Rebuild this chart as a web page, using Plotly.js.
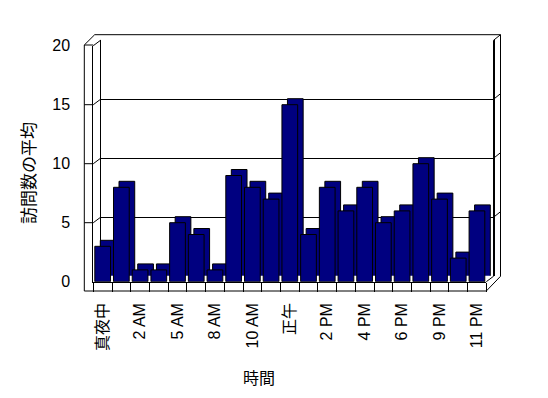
<!DOCTYPE html>
<html>
<head>
<meta charset="utf-8">
<script src="https://cdn.plot.ly/plotly-3.0.1.min.js"></script>
<style>html,body{margin:0;padding:0;background:#fff;}#chart{width:548px;height:398px;}</style>
</head>
<body>
<div id="chart"></div>
<script>
// ---- data ----
const categories = ["真夜中","1 AM","2 AM","4 AM","5 AM","7 AM","8 AM","9 AM","10 AM","11 AM","正午",
                    "1 PM","2 PM","3 PM","4 PM","5 PM","6 PM","8 PM","9 PM","10 PM","11 PM"];
const visits = [3, 8, 1, 1, 5, 4, 1, 9, 8, 7, 15, 4, 8, 6, 8, 5, 6, 10, 7, 2, 6];
const yTicks = [0, 5, 10, 15, 20];
const xTitle = "時間";
const yTitle = "訪問数の平均";

// ---- layout helpers (pixel geometry of the pseudo-3D frame) ----
const W = 548, H = 398;
const px = x => x / W;
const py = y => 1 - y / H;
const FRONT = {l: 93.3, r: 486.3, b: 281.7, t: 45.7};
const DX = 7.2, DY = 5.4;          // back wall offset
const BDX = 5.5, BDY = 6;          // bar depth offset
const unit = (FRONT.b - FRONT.t) / 20;
const depthBase = BDY / unit;

const idx = categories.map((c, i) => i);
const labelIdx = idx.filter(i => i % 2 === 0);
const labelText = labelIdx.map(i => categories[i]);
const boundaries = categories.concat([""]).map((c, i) => i - 0.5);

const font = {family: 'Liberation Sans, "Noto Sans CJK JP", sans-serif', size: 16, color: '#000'};

const traces = [
  { // back wall holder (no marks)
    type: 'scatter', mode: 'markers', x: [0], y: [0], xaxis: 'x', yaxis: 'y',
    marker: {opacity: 0, size: 1}, hoverinfo: 'skip', showlegend: false
  },
  { // depth (top + side faces)
    type: 'bar', x: idx, y: visits.map(v => v + depthBase), base: visits.map(() => -depthBase),
    xaxis: 'x2', yaxis: 'y2', width: 0.84,
    marker: {color: '#000080', line: {color: '#000', width: 1}}, hoverinfo: 'skip', showlegend: false
  },
  { // front faces
    type: 'bar', x: idx, y: visits, xaxis: 'x3', yaxis: 'y3', width: 0.84,
    marker: {color: '#000080', line: {color: '#000', width: 1}}, hoverinfo: 'skip', showlegend: false
  }
];

// frame lines
const L = (x0, y0, x1, y1) => ({type: 'line', xref: 'paper', yref: 'paper', layer: 'below',
  x0: px(x0), y0: py(y0), x1: px(x1), y1: py(y1), line: {color: '#000', width: 1}});
const wallOuter = FRONT.l - 9;
const floorBottom = FRONT.b + 9.3;
const backR = FRONT.r + DX, backT = FRONT.t - DY;
const shapes = [
  L(wallOuter, FRONT.t - 0.7, wallOuter, floorBottom),
  L(wallOuter, FRONT.t - 0.7, FRONT.l, FRONT.t - 0.7),
  L(wallOuter, FRONT.t - 0.7, FRONT.l + 1.4, backT - 5.6),
  L(FRONT.l + 1.4, backT - 5.6, backR + 7, backT - 5.6),
  L(FRONT.l, FRONT.t, FRONT.l + DX, backT),
  L(backR + 7, backT - 5.6, backR + 7, FRONT.b - DY),
  L(backR, backT, backR + 7, backT - 5.6),
  L(wallOuter, floorBottom, FRONT.r, floorBottom),
  L(FRONT.r, floorBottom, backR + 7, FRONT.b - DY),
  L(FRONT.r, FRONT.b, backR, FRONT.b - DY),
  L(FRONT.l + DX, backT, FRONT.l + DX, FRONT.b - DY),
  L(backR, backT, backR, FRONT.b - DY),
];
yTicks.filter(v => v > 0).forEach(v => {
  const yf = FRONT.b - unit * v, yb = yf - DY;
  if (v < 20) {
    shapes.push(L(wallOuter, yf, FRONT.l, yf));
    shapes.push(L(FRONT.l, yf, FRONT.l + DX, yb));
    shapes.push(L(backR, yb, backR + 7, yb - 5.6));
  }
});

const layout = {
  width: W, height: H,
  margin: {l: 0, r: 0, t: 0, b: 0},
  paper_bgcolor: '#fff', plot_bgcolor: 'rgba(0,0,0,0)',
  font: font, showlegend: false, barmode: 'overlay',
  xaxis: {domain: [px(FRONT.l + DX), px(FRONT.r + DX)], range: [-0.5, 20.5], anchor: 'y',
          showgrid: false, zeroline: false, showticklabels: false, ticks: '', showline: false},
  yaxis: {domain: [py(FRONT.b - DY), py(FRONT.t - DY)], range: [0, 20], anchor: 'x',
          tickmode: 'array', tickvals: yTicks.filter(v => v > 0), showticklabels: false, ticks: '',
          showgrid: true, gridcolor: '#000', gridwidth: 1, zeroline: false,
          showline: true, mirror: true, linecolor: '#000', linewidth: 1},
  xaxis2: {domain: [px(FRONT.l + BDX), px(FRONT.r + BDX)], range: [-0.5, 20.5], anchor: 'y2', visible: false},
  yaxis2: {domain: [py(FRONT.b - BDY), py(FRONT.t - BDY)], range: [0, 20], anchor: 'x2', visible: false},
  xaxis3: {domain: [px(FRONT.l), px(FRONT.r)], range: [-0.5, 20.5], anchor: 'y3',
           tickmode: 'array', tickvals: labelIdx, ticktext: labelText, tickangle: -90, ticks: '',
           ticklabelstandoff: 14, tickfont: font,
           minor: {tickmode: 'array', tickvals: boundaries, ticks: 'outside', ticklen: 9.3, tickcolor: '#000', tickwidth: 1, showgrid: false},
           showgrid: false, zeroline: false, showline: true, linecolor: '#000', linewidth: 1},
  yaxis3: {domain: [py(FRONT.b), py(FRONT.t)], range: [0, 20], anchor: 'x3',
           tickmode: 'array', tickvals: yTicks, ticks: '', ticklabelstandoff: 19, tickfont: font,
           showgrid: false, zeroline: false, showline: true, linecolor: '#000', linewidth: 1},
  shapes: shapes,
  annotations: [
    {text: xTitle, xref: 'paper', yref: 'paper', x: px(259), y: py(378), showarrow: false,
     xanchor: 'center', yanchor: 'middle', font: {family: font.family, size: 16, color: '#000'}},
    {text: yTitle, xref: 'paper', yref: 'paper', x: px(29), y: py(173), showarrow: false, textangle: -90,
     xanchor: 'center', yanchor: 'middle', font: {family: font.family, size: 17, color: '#000'}}
  ]
};

Plotly.newPlot('chart', traces, layout, {staticPlot: true, displayModeBar: false});
</script>
</body>
</html>
